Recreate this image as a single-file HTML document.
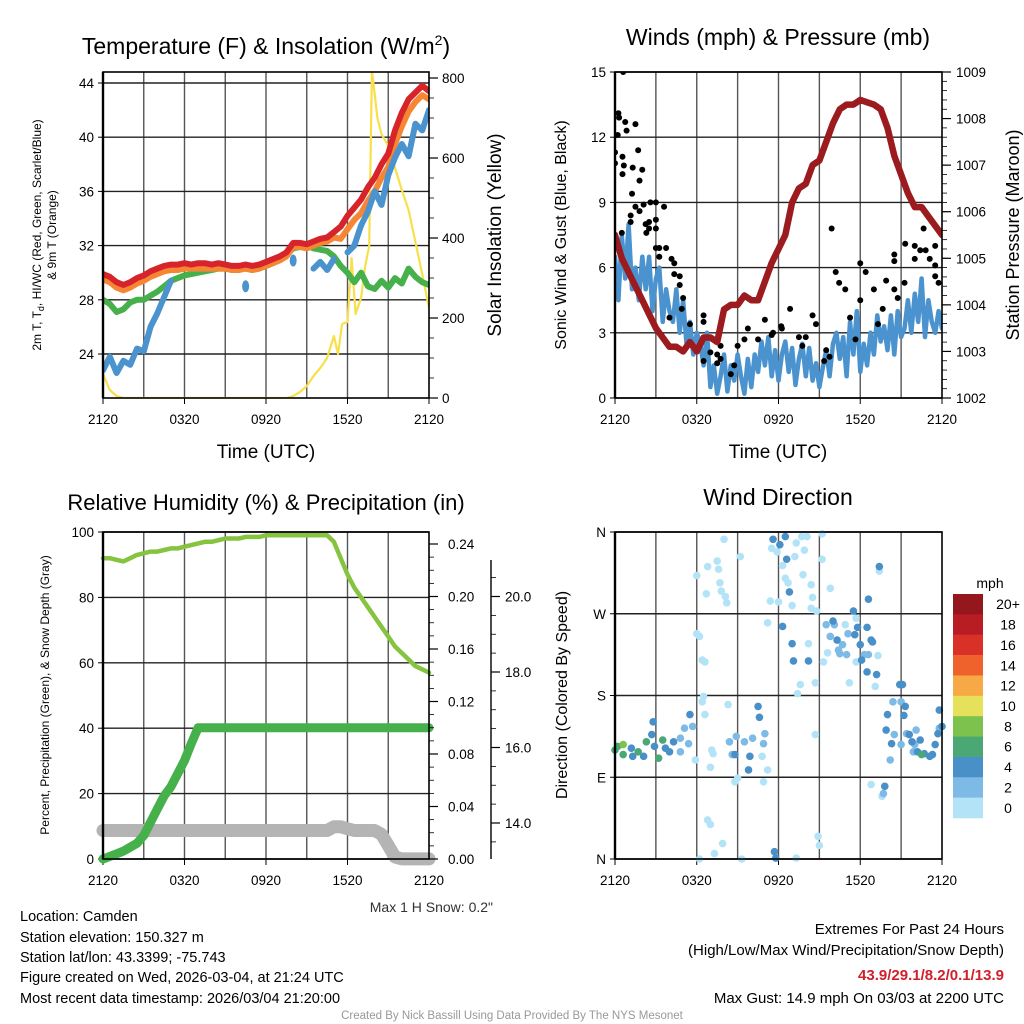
<!DOCTYPE html>
<html><head><meta charset="utf-8"><title>Mesonet Meteogram</title>
<style>
html,body{margin:0;padding:0;background:#fff;}
svg{display:block;font-family:"Liberation Sans",Arial,sans-serif;}
</style></head>
<body>
<svg id="svg" width="1024" height="1024" viewBox="0 0 1024 1024" xmlns="http://www.w3.org/2000/svg">
<rect x="0" y="0" width="1024" height="1024" fill="#fff"/>
<text x="266" y="54" font-size="23" text-anchor="middle">Temperature (F) &amp; Insolation (W/m<tspan font-size="14" dy="-9">2</tspan><tspan dy="9">)</tspan></text>
<text x="778" y="45" font-size="23" text-anchor="middle">Winds (mph) &amp; Pressure (mb)</text>
<text x="266" y="510" font-size="22" text-anchor="middle">Relative Humidity (%) &amp; Precipitation (in)</text>
<text x="778" y="505" font-size="23" text-anchor="middle">Wind Direction</text>
<text x="266" y="458" font-size="19" text-anchor="middle">Time (UTC)</text>
<text x="778" y="458" font-size="19" text-anchor="middle">Time (UTC)</text>
<text transform="translate(41,235) rotate(-90)" font-size="12" text-anchor="middle">2m T, T<tspan font-size="9" dy="3">d</tspan><tspan dy="-3">, HI/WC (Red, Green, Scarlet/Blue)</tspan></text>
<text transform="translate(56,235) rotate(-90)" font-size="12" text-anchor="middle">&amp; 9m T (Orange)</text>
<text transform="translate(501,235) rotate(-90)" font-size="19" text-anchor="middle">Solar Insolation (Yellow)</text>
<text transform="translate(566,235) rotate(-90)" font-size="16" text-anchor="middle">Sonic Wind &amp; Gust (Blue, Black)</text>
<text transform="translate(1019,235) rotate(-90)" font-size="18" text-anchor="middle">Station Pressure (Maroon)</text>
<text transform="translate(49,695) rotate(-90)" font-size="12" text-anchor="middle">Percent, Precipitation (Green), &amp; Snow Depth (Gray)</text>
<text transform="translate(567,695) rotate(-90)" font-size="16" text-anchor="middle">Direction (Colored By Speed)</text>
<text x="493" y="912" font-size="14" fill="#333" text-anchor="end">Max 1 H Snow: 0.2"</text>
<g font-size="14.5">
<text x="20" y="921">Location: Camden</text>
<text x="20" y="942">Station elevation: 150.327 m</text>
<text x="20" y="962">Station lat/lon: 43.3399; -75.743</text>
<text x="20" y="982">Figure created on Wed, 2026-03-04, at 21:24 UTC</text>
<text x="20" y="1003">Most recent data timestamp: 2026/03/04 21:20:00</text>
</g>
<g font-size="15" text-anchor="end">
<text x="1004" y="934">Extremes For Past 24 Hours</text>
<text x="1004" y="955">(High/Low/Max Wind/Precipitation/Snow Depth)</text>
<text x="1004" y="980" fill="#d0202a" font-weight="bold">43.9/29.1/8.2/0.1/13.9</text>
<text x="1004" y="1003">Max Gust: 14.9 mph On 03/03 at 2200 UTC</text>
</g>
<text x="512" y="1019" font-size="11.5" fill="#999" text-anchor="middle">Created By Nick Bassill Using Data Provided By The NYS Mesonet</text>
</svg>
<script>
// ---------- DATA ----------
const xTickLabels = ["2120","0320","0920","1520","2120"];
const xTickHours = [0,6,12,18,24];
const halfHours = [0,0.5,1,1.5,2,2.5,3,3.5,4,4.5,5,5.5,6,6.5,7,7.5,8,8.5,9,9.5,10,10.5,11,11.5,12,12.5,13,13.5,14,14.5,15,15.5,16,16.5,17,17.5,18,18.5,19,19.5,20,20.5,21,21.5,22,22.5,23,23.5,24];
const tempTicks = [24,28,32,36,40,44];
const insolTicks = [0,200,400,600,800];
const temp2m = [29.9,29.7,29.3,29.1,29.3,29.6,29.8,30.1,30.3,30.5,30.6,30.6,30.7,30.6,30.7,30.7,30.6,30.7,30.6,30.5,30.5,30.6,30.5,30.6,30.8,31.0,31.2,31.5,32.2,32.2,32.1,32.3,32.5,32.6,33.0,33.4,34.2,34.8,35.4,36.3,37.0,38.0,38.8,40.5,41.8,42.8,43.3,43.8,43.4];
const temp9m = [29.5,29.3,28.9,28.7,28.9,29.2,29.4,29.7,29.9,30.1,30.2,30.2,30.3,30.3,30.3,30.3,30.3,30.3,30.3,30.2,30.2,30.3,30.2,30.3,30.5,30.7,30.9,31.2,31.9,31.9,31.8,32.0,32.2,32.3,32.6,32.5,33.2,33.9,34.4,35.3,36.0,37.0,37.8,39.5,40.8,41.9,42.6,43.1,42.8];
const dewpoint = [28.0,27.7,27.1,27.3,27.8,28.0,28.0,28.3,28.6,29.0,29.4,29.6,29.8,29.9,30.0,30.1,30.2,30.3,30.3,30.2,30.3,30.3,30.2,30.3,30.5,30.7,31.0,31.3,31.8,31.9,32.0,31.8,31.7,31.6,31.2,30.5,30.0,29.3,30.0,29.0,28.8,29.4,28.9,29.6,29.2,30.3,29.7,29.3,29.1];
const windChill = [22.8,23.8,22.6,23.5,23.2,24.4,24.2,26.0,27.0,28.2,29.4,null,null,null,null,null,null,null,null,null,null,29.0,null,null,null,null,null,null,30.9,null,null,30.3,30.8,30.2,31.0,null,31.5,32.0,33.5,34.5,36.0,35.0,37.2,38.5,39.5,38.6,41.0,40.5,42.0];
const insolHours = [0,0.5,1,1.5,13.5,14,14.5,15,15.5,16,16.5,17,17.3,17.6,18,18.3,18.6,19,19.3,19.6,19.8,20.2,20.5,21,21.5,22,22.5,23,23.5,24];
const insolValues = [60,20,5,0,0,5,15,30,55,75,100,155,110,185,190,350,210,250,330,380,820,700,660,630,575,520,470,390,310,225];

const windTicks = [0,3,6,9,12,15];
const pressTicks = [1002,1003,1004,1005,1006,1007,1008,1009];
const pressure = [1005.5,1005.0,1004.7,1004.4,1004.1,1003.8,1003.5,1003.3,1003.1,1003.1,1003.0,1003.2,1003.0,1003.3,1003.3,1003.2,1003.9,1004.0,1004.0,1004.2,1004.1,1004.1,1004.5,1004.9,1005.2,1005.5,1006.2,1006.5,1006.6,1007.0,1007.1,1007.5,1007.9,1008.2,1008.3,1008.3,1008.4,1008.35,1008.3,1008.2,1007.8,1007.2,1006.8,1006.4,1006.1,1006.1,1005.9,1005.7,1005.5];
const windSpeed = [6.5,4.5,7.5,5.5,8.0,5.0,6.0,4.5,6.5,
  5.0,6.5,4.0,5.5,6.0,3.5,5.0,4.0,
  3.5,5.0,3.0,4.5,2.5,3.5,2.0,3.0,
  2.5,1.5,3.0,0.5,1.5,0.2,1.0,2.0,
  0.3,1.5,0.8,2.0,1.0,0.2,1.8,0.5,
  2.0,1.2,2.6,1.5,2.8,1.0,2.2,0.8,
  2.0,2.6,1.2,2.3,0.6,1.8,2.5,1.0,
  2.3,0.8,1.6,0.5,1.4,2.2,1.0,2.5,
  3.0,1.8,2.8,1.0,3.5,2.0,4.0,1.2,
  2.5,1.5,3.0,2.0,3.8,2.6,3.3,2.2,
  3.8,2.0,4.0,2.8,3.2,4.5,3.0,4.8,
  3.5,5.5,2.8,4.5,3.5,3.0,4.0,3.2,3.5];
const gustHours = [0.6,0.25,0.3,0.75,0.2,0.85,1.5,0,0.55,0,0.65,0.55,1.3,2,1.7,1.8,1.25,1.5,1.8,2.1,1.15,1.15,0.5,2.25,2.5,2.5,2.6,3,3,2.3,3,3.6,3,3.25,3.75,3.25,4.15,4.35,4.35,4.75,4.75,4.9,4,5,5.5,6.5,6.5,7,6.5,7.5,7.5,7.75,7.75,8.5,8.75,9,9.5,9.75,10.5,11,11.5,11.6,12.25,12.2,12.85,13.5,13.75,14,14.75,14.5,15.35,15.5,15.75,15.9,16.2,16.45,16.9,17.25,17.65,18,18,18.4,19,19.3,19.65,19.9,20.5,20.5,20.5,20.75,21.3,21.25,22,22,22.4,22.65,22.8,23.1,23.5,23.5,23.75,23.5];
const gustValues = [15.0,13.1,12.9,12.7,12.1,12.3,12.6,11.3,11.1,10.8,10.7,10.3,10.6,10.5,11.4,10.0,9.4,8.8,8.6,8.9,8.4,8.1,7.6,8.0,7.8,8.1,9.0,9.0,8.2,7.6,7.8,8.8,6.9,6.9,6.9,6.5,6.4,6.2,5.7,5.6,5.2,4.1,3.7,4.6,3.4,3.5,3.8,2.1,1.7,1.6,2.0,2.4,1.8,1.1,1.5,2.4,2.7,3.2,2.7,3.6,2.9,3.0,3.2,3.3,4.1,2.8,2.4,2.8,3.4,3.8,1.7,2.2,1.9,7.8,5.8,5.3,5.0,3.7,2.7,4.5,6.2,5.8,5.0,3.4,4.1,5.4,6.6,6.3,5.0,4.6,7.1,5.3,7.0,6.4,6.8,7.8,6.8,6.4,7.0,6.1,5.3,5.6];

const rhTicks = [0,20,40,60,80,100];
const precipTicks = [0,0.04,0.08,0.12,0.16,0.20,0.24];
const snowTicks = [14,16,18,20];
const humidity = [92,92,91.5,91,92,93,93.5,94,94,94.5,95,95,95.5,96,96.5,97,97,97.5,98,98,98,98.5,98.5,98.5,99,99,99,99,99,99,99,99,99,99,97,92,87,83,80,77,74,71,68,65,63,61,59,58,57];
const precip = [0,0.002,0.004,0.006,0.009,0.012,0.018,0.028,0.038,0.048,0.055,0.065,0.075,0.088,0.1,0.1,0.1,0.1,0.1,0.1,0.1,0.1,0.1,0.1,0.1,0.1,0.1,0.1,0.1,0.1,0.1,0.1,0.1,0.1,0.1,0.1,0.1,0.1,0.1,0.1,0.1,0.1,0.1,0.1,0.1,0.1,0.1,0.1,0.1];
const snowDepth = [13.8,13.8,13.8,13.8,13.8,13.8,13.8,13.8,13.8,13.8,13.8,13.8,13.8,13.8,13.8,13.8,13.8,13.8,13.8,13.8,13.8,13.8,13.8,13.8,13.8,13.8,13.8,13.8,13.8,13.8,13.8,13.8,13.8,13.8,13.9,13.9,13.85,13.8,13.8,13.8,13.8,13.7,13.4,13.1,13.05,13.05,13.05,13.05,13.05];

const dirTickLabels = ["N","E","S","W","N"];
const dirTickDegs = [0,90,180,270,360];
const speedBins = ["20+","18","16","14","12","10","8","6","4","2","0"];
const dirHours = [0,0.2,0.6,0.6,1.2,1.3,1.7,2.1,2.3,2.7,2.8,2.9,3.2,3.5,3.7,4.0,4.3,4.8,5.1,5.5,5.7,5.4,4.8,5.9,6.4,6.5,6.6,6.0,6.2,6.4,6.6,6.0,6.7,6.8,7.5,7.6,7.7,7.8,8.1,8.2,8.0,6.8,7.0,7.3,7.9,6.2,7.1,7.2,7.0,8.3,8.4,8.6,8.8,8.9,8.8,9.0,9.3,9.5,9.9,9.8,10.1,10.5,10.6,11.0,10.9,10.8,11.2,10.9,9.2,11.2,11.4,11.5,11.6,11.9,12.0,12.1,12.3,12.3,12.5,12.6,12.5,12.7,12.8,13.0,13.0,13.1,13.2,13.3,13.7,13.9,13.8,14.1,14.2,14.4,14.5,14.4,14.8,15.2,15.2,14.7,14.7,13.6,13.4,14.2,14.9,15.0,13.3,11.7,11.8,15.3,15.5,15.8,16.0,16.1,16.3,16.4,16.5,16.7,16.9,17.0,17.1,17.5,17.6,17.7,17.8,18.0,18.1,18.3,18.5,18.6,18.5,18.8,18.9,19.2,19.1,19.3,17.2,17.7,15.8,15.6,19.4,19.4,18.6,18.8,19.7,19.8,19.6,19.9,20.0,20.3,20.4,20.2,20.5,20.9,21.1,21.0,21.3,21.2,21.0,21.4,21.6,21.8,21.9,22.2,22.4,22.5,22.7,23.1,23.3,23.5,23.7,23.8,24.0,23.8,22.1,22.0];
const dirDegrees = [120,124,126,115,122,113,118,113,129,137,151,124,111,131,122,118,129,133,144,159,146,127,118,109,173,179,159,248,245,219,217,312,292,322,328,319,304,295,289,282,352,43,38,6,17,0,120,116,101,170,129,115,115,135,85,89,0,129,113,98,133,168,156,138,127,113,98,85,333,260,284,342,352,338,283,346,256,323,355,330,309,304,294,279,237,218,333,348,355,340,313,355,237,302,288,276,273,358,330,137,194,192,182,218,25,15,1,8,1,217,258,245,262,258,241,230,226,236,258,225,248,273,247,265,255,236,219,225,206,225,255,241,239,203,190,224,194,217,298,227,322,317,286,82,72,80,69,142,159,127,173,109,137,192,192,173,168,158,126,138,137,129,118,118,131,115,116,113,115,126,138,144,146,164,142,126];
const dirSpeeds = [7,7,9,7,5,5,7,5,7,5,5,5,7,7,5,5,5,3,3,5,3,3,3,1,1,1,1,1,1,1,1,1,1,1,1,1,1,1,1,1,1,1,1,1,1,1,1,1,1,1,3,3,5,3,1,1,1,3,5,5,3,5,5,3,3,1,1,1,1,1,1,1,5,1,1,5,5,1,5,5,1,1,5,1,5,5,1,1,1,1,1,1,1,1,1,1,1,1,1,1,1,1,1,5,1,1,1,5,5,1,3,3,5,3,5,3,3,3,1,3,3,5,5,1,5,5,5,3,5,3,5,5,5,5,1,1,1,1,1,1,5,1,5,1,3,5,1,5,5,5,3,3,3,5,5,3,5,5,3,3,5,5,3,5,5,7,5,5,5,5,5,3,5,5,3,3];

// ---------- HELPERS ----------
const quarterHours = windSpeed.map((v,i)=>i*0.25);
const NS = "http://www.w3.org/2000/svg";
const svg = document.getElementById("svg");
function mk(tag, attrs, parent){
  const e = document.createElementNS(NS, tag);
  for (const k in attrs) e.setAttribute(k, attrs[k]);
  (parent||svg).appendChild(e);
  return e;
}
function lin(d0,d1,r0,r1){ return v => r0 + (v-d0)*(r1-r0)/(d1-d0); }
const speedColors = ["#93171b","#b81d24","#d93127","#ef622b","#f6a944","#e6e15a","#7cc24c","#4aa874","#4a90c8","#7dbbe6","#b3e3f7"];
function speedColor(s){ let idx = 10 - Math.min(10, Math.floor(s/2)); return speedColors[idx]; }

function panel(name, x0,x1,y0,y1, yScale, yTicks, yLabels){
  const g = mk("g", {});
  
  
  const xs = lin(0,24,x0,x1);
  for (let h=3; h<24; h+=3){
    const l = mk("line", {x1:xs(h),x2:xs(h),y1:y0,y2:y1,stroke:"#555","stroke-width":1.4}, g);
    
    
  }
  yTicks.forEach((t,i)=>{
    const y = yScale(t);
    const l = mk("line", {x1:x0,x2:x1,y1:y,y2:y,stroke:"#222","stroke-width":1.4}, g);
    
    
    const tk = mk("line", {x1:x0-5,x2:x0,y1:y,y2:y,stroke:"#000","stroke-width":1}, g);
    
    
    const tx = mk("text", {x:x0-9,y:y+5,"font-size":13.5,"text-anchor":"end"}, g);
    tx.textContent = yLabels ? yLabels[i] : String(t);
    
    
  });
  xTickHours.forEach((h,i)=>{
    const tk = mk("line", {x1:xs(h),x2:xs(h),y1:y1,y2:y1+6,stroke:"#000","stroke-width":1}, g);
    
    
    const tx = mk("text", {x:xs(h),y:y1+26,"font-size":13.5,"text-anchor":"middle"}, g);
    tx.textContent = xTickLabels[i];
    
    
  });
  return {g, xs};
}
function frame(g,x0,x1,y0,y1){
  const r = mk("rect", {x:x0,y:y0,width:x1-x0,height:y1-y0,fill:"none",stroke:"#000","stroke-width":1.6}, g);
  
  
  const l = mk("line", {x1:x0,x2:x0,y1:y0,y2:y1,stroke:"#000","stroke-width":2.4}, g);
  
  
}
function rightAxis(g, x, y0, y1, scale, ticks, labels, offset, minorStep, dMin, dMax){
  if (minorStep){
    for (let v=dMin; v<=dMax+1e-9; v+=minorStep){
      const y = scale(v); if (y<y0-0.5||y>y1+0.5) continue;
      const m = mk("line", {x1:x,x2:x+5,y1:y,y2:y,stroke:"#000","stroke-width":0.8}, g);
      
      
    }
  }
  ticks.forEach((t,i)=>{
    const y = scale(t);
    const tk = mk("line", {x1:x,x2:x+9,y1:y,y2:y,stroke:"#000","stroke-width":1.2}, g);
    
    
    const tx = mk("text", {x:x+offset,y:y+5,"font-size":13.5}, g);
    tx.textContent = labels[i];
    
    
  });
}
function pathFrom(xsArr, ysArr, xs, ys){
  let d = "", pen = false;
  for (let i=0;i<ysArr.length;i++){
    const v = ysArr[i];
    if (v===null){ pen=false; continue; }
    d += (pen? "L":"M") + xs(xsArr[i]).toFixed(1) + "," + ys(v).toFixed(1);
    pen = true;
  }
  return d;
}
function line(g, name, hrs, vals, xs, ys, color, w){
  const p = mk("path", {d:pathFrom(hrs, vals, xs, ys), fill:"none", stroke:color, "stroke-width":w, "stroke-linejoin":"round","stroke-linecap":"round"}, g);
  
  
  return p;
}

// ---------- PANEL 1 ----------
(function(){
  const x0=103,x1=429,y0=72,y1=398;
  const ys = lin(24,44,354,83);
  const yi = lin(0,800,398,78);
  const {g, xs} = panel("temperature", x0,x1,y0,y1, ys, tempTicks);
  const clip = mk("clipPath", {id:"c1"}, svg); mk("rect",{x:x0,y:y0,width:x1-x0,height:y1-y0},clip);
  const dg = mk("g", {"clip-path":"url(#c1)"}, g);
  
  
  line(dg, "insolation-line", insolHours, insolValues, xs, yi, "#f7e04b", 2.2);
  line(dg, "dewpoint-line", halfHours, dewpoint, xs, ys, "#46b04a", 6);
  line(dg, "temp-9m-line", halfHours, temp9m, xs, ys, "#f58634", 6);
  line(dg, "temp-2m-line", halfHours, temp2m, xs, ys, "#d7242a", 6);
  line(dg, "wind-chill-line", halfHours, windChill, xs, ys, "#4b93cf", 6);
  windChill.forEach((v,i)=>{
    if (v===null) return;
    if ((i>0 && windChill[i-1]!==null) || (i<windChill.length-1 && windChill[i+1]!==null)) return;
    const c = mk("ellipse", {cx:xs(halfHours[i]),cy:ys(v),rx:3.5,ry:6,fill:"#4b93cf"}, dg);
    
    
  });
  frame(g,x0,x1,y0,y1);
  rightAxis(g, x1, y0, y1, yi, insolTicks, insolTicks.map(String), 13, 50, 0, 800);
})();

// ---------- PANEL 2 ----------
(function(){
  const x0=615,x1=942,y0=72,y1=398;
  const ys = lin(0,15,398,72);
  const yp = lin(1002,1009,398,72);
  const {g, xs} = panel("wind", x0,x1,y0,y1, ys, windTicks);
  const clip = mk("clipPath", {id:"c2"}, svg); mk("rect",{x:x0,y:y0,width:x1-x0,height:y1-y0},clip);
  const dg = mk("g", {"clip-path":"url(#c2)"}, g);
  
  
  line(dg, "wind-speed-line", quarterHours, windSpeed, xs, ys, "#4b93cf", 4.5);
  gustHours.forEach((h,i)=>{
    const c = mk("circle", {cx:xs(h),cy:ys(gustValues[i]),r:3,fill:"#000"}, dg);
    
    
  });
  line(dg, "pressure-line", halfHours, pressure, xs, yp, "#9b1b1f", 6.5);
  frame(g,x0,x1,y0,y1);
  rightAxis(g, x1, y0, y1, yp, pressTicks, pressTicks.map(String), 14, 0.2, 1002, 1009);
})();

// ---------- PANEL 3 ----------
(function(){
  const x0=103,x1=429,y0=532,y1=859;
  const ys = lin(0,100,859,532);
  const ypr = lin(0,0.24,859,544);
  const ysn = lin(14,16,823,747.5);
  const {g, xs} = panel("humidity", x0,x1,y0,y1, ys, rhTicks);
  const dg = mk("g", {}, g);
  
  
  line(dg, "snow-depth-line", halfHours, snowDepth, xs, ysn, "#b4b4b4", 13);
  line(dg, "humidity-line", halfHours, humidity, xs, ys, "#86c440", 4.5);
  line(dg, "precip-line", halfHours, precip, xs, ypr, "#46b04a", 9);
  frame(g,x0,x1,y0,y1);
  rightAxis(g, x1, y0, y1, ypr, precipTicks, precipTicks.map(v=>v.toFixed(2)), 19, 0.01, 0, 0.24);
  const ax = mk("line", {x1:491,x2:491,y1:560,y2:859,stroke:"#000","stroke-width":1.4}, g);
  
  
  rightAxis(g, 491, 560, 859, ysn, snowTicks, snowTicks.map(v=>v.toFixed(1)), 14, 0.5, 13.5, 20.5);
})();

// ---------- PANEL 4 ----------
(function(){
  const x0=615,x1=942,y0=532,y1=859;
  const ys = lin(0,360,859,532);
  const {g, xs} = panel("direction", x0,x1,y0,y1, ys, dirTickDegs, dirTickLabels);
  const dg = mk("g", {}, g);
  
  
  const order = dirHours.map((h,i)=>i).sort((a,b)=>dirSpeeds[a]-dirSpeeds[b]);
  order.forEach(i=>{
    const c = mk("circle", {cx:xs(dirHours[i]),cy:ys(dirDegrees[i]),r:3.8,fill:speedColor(dirSpeeds[i])}, dg);
    
    
  });
  frame(g,x0,x1,y0,y1);
  const cb = mk("g", {}, svg);
  
  
  const t = mk("text", {x:990,y:588,"font-size":14,"text-anchor":"middle"}, cb);
  t.textContent = "mph";
  
  
  const bh = 224/11;
  speedBins.forEach((lab,i)=>{
    const r = mk("rect", {x:953,y:594+i*bh,width:30,height:bh+0.3,fill:speedColors[i]}, cb);
    
    
    const tx = mk("text", {x:1008,y:594+i*bh+bh/2+5,"font-size":14,"text-anchor":"middle"}, cb);
    tx.textContent = lab;
    
    
  });
})();
</script>
</body></html>
